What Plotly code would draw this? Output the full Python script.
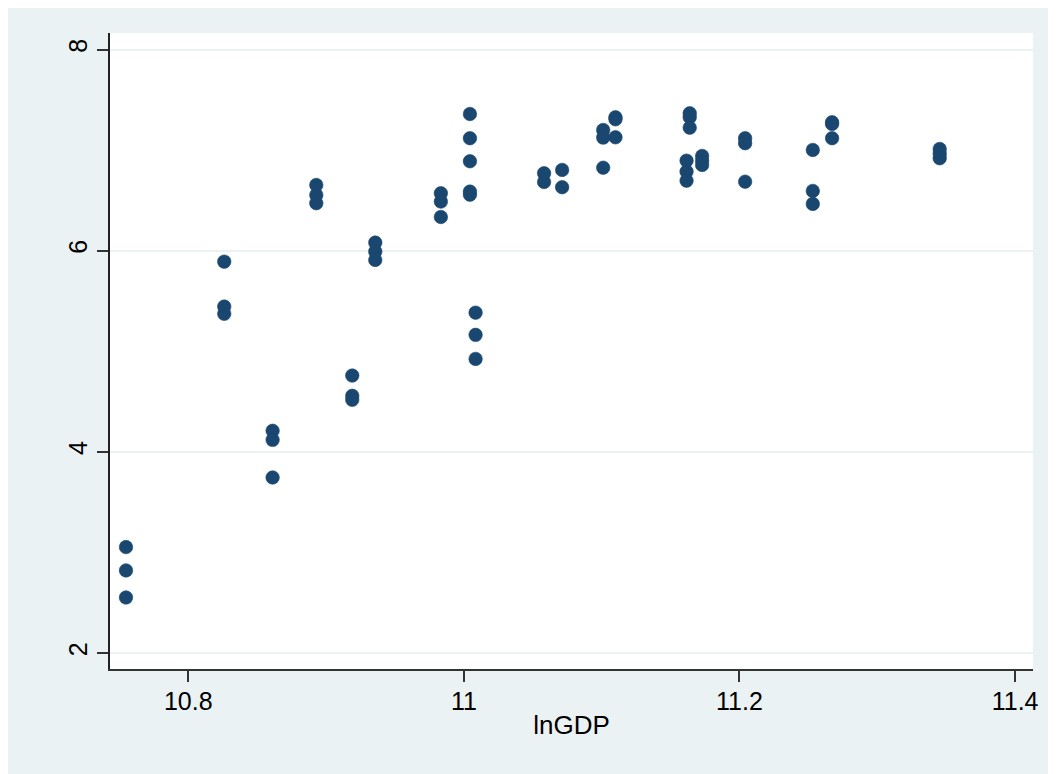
import plotly.graph_objects as go

# Data (lnGDP vs. outcome), grouped by x value
ln_gdp = [
    10.7548, 10.7548, 10.7548,
    10.8261, 10.8261, 10.8261,
    10.8612, 10.8612, 10.8612,
    10.8929, 10.8929, 10.8929,
    10.9190, 10.9190, 10.9190,
    10.9357, 10.9357, 10.9357,
    10.9833, 10.9833, 10.9833,
    11.0044, 11.0044, 11.0044, 11.0044, 11.0044,
    11.0085, 11.0085, 11.0085,
    11.0582, 11.0582,
    11.0713, 11.0713,
    11.1011, 11.1011, 11.1011,
    11.1100, 11.1100, 11.1100,
    11.1616, 11.1616, 11.1616,
    11.1639, 11.1639, 11.1639,
    11.1729, 11.1729, 11.1729,
    11.2041, 11.2041, 11.2041,
    11.2532, 11.2532, 11.2532,
    11.2672, 11.2672, 11.2672,
    11.3453, 11.3453, 11.3453,
]
y_values = [
    3.053, 2.821, 2.552,
    5.891, 5.444, 5.372,
    4.209, 4.119, 3.745,
    6.653, 6.554, 6.472,
    4.758, 4.557, 4.517,
    6.080, 5.991, 5.908,
    6.571, 6.488, 6.335,
    7.359, 7.118, 6.889, 6.587, 6.557,
    5.384, 5.163, 4.924,
    6.770, 6.683,
    6.803, 6.631,
    7.200, 7.124, 6.825,
    7.326, 7.306, 7.127,
    6.895, 6.786, 6.696,
    7.366, 7.326, 7.223,
    6.942, 6.895, 6.852,
    7.118, 7.068, 6.686,
    7.001, 6.594, 6.465,
    7.277, 7.260, 7.118,
    7.011, 6.965, 6.919,
]
x_ticks = [10.8, 11.0, 11.2, 11.4]
x_tick_labels = ["10.8", "11", "11.2", "11.4"]
y_ticks = [2, 4, 6, 8]
y_tick_labels = ["2", "4", "6", "8"]

BG = "#EAF2F3"
NAVY = "#1A476F"
FONT = "Liberation Sans, Arial, sans-serif"

fig = go.Figure()
fig.add_trace(go.Scatter(
    x=ln_gdp, y=y_values, mode="markers",
    marker=dict(color=NAVY, size=13.5, line=dict(width=0.6, color=NAVY)),
    showlegend=False, hoverinfo="x+y",
))

fig.update_layout(
    width=1048, height=766,
    margin=dict(l=102, r=23, t=25, b=105),
    paper_bgcolor=BG,
    plot_bgcolor="white",
    font=dict(family=FONT, color="#000000"),
    xaxis=dict(
        range=[10.7432, 11.4130],
        tickmode="array", tickvals=x_ticks, ticktext=x_tick_labels,
        ticks="outside", ticklen=11, tickwidth=1.5, tickcolor="#333333",
        ticklabelstandoff=-2,
        showline=True, linecolor="#333333", linewidth=1.5, mirror=False,
        showgrid=False, zeroline=False,
        tickfont=dict(size=25, family=FONT, color="#000000"),
        title=dict(text="lnGDP", font=dict(size=26, family=FONT, color="#000000"), standoff=2),
    ),
    yaxis=dict(
        range=[1.841, 8.164],
        tickmode="array", tickvals=y_ticks, ticktext=y_tick_labels,
        tickangle=-90,
        ticks="outside", ticklen=11, tickwidth=1.5, tickcolor="#333333",
        showline=True, linecolor="#222222", linewidth=1.5, mirror=False,
        showgrid=True, gridcolor=BG, gridwidth=2, zeroline=False,
        tickfont=dict(size=25, family=FONT, color="#000000"),
    ),
)

fig.write_html("out.html")
